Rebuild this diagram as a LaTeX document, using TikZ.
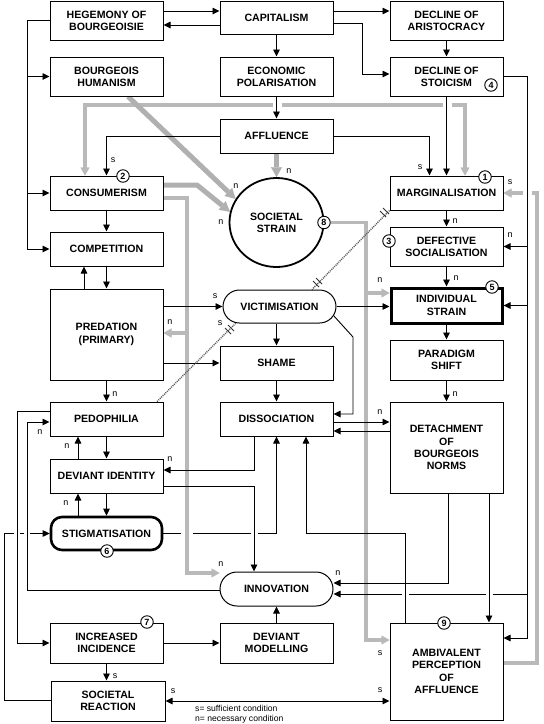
\documentclass[tikz,border=0pt]{standalone}
\usepackage{fontspec}
\setmainfont{Liberation Sans}
\usetikzlibrary{arrows.meta,shapes.geometric,calc}
\pgfdeclarelayer{back}
\pgfdeclarelayer{bg}
\pgfsetlayers{back,bg,main}
\newcommand{\mkbox}[7][]{%
  \pgfmathsetmacro\mbX{(#3+#5)/2}\pgfmathsetmacro\mbY{(#4+#6)/2}%
  \pgfmathsetmacro\mbW{#5-#3}\pgfmathsetmacro\mbH{#6-#4}%
  \node[box,#1,minimum width=\mbW pt,minimum height=\mbH pt] (#2) at (\mbX,\mbY) {#7};}
\newcommand{\gapat}[4]{\fill[white] (#1-#3,#2-#4) rectangle (#1+#3,#2+#4);}
\tikzset{
  box/.style={draw, line width=1pt, fill=white, align=center, inner sep=0pt,
    font=\bfseries\fontsize{10.6}{12.3}\selectfont},
  cn/.style={line width=0.9pt, -{Triangle[length=7pt,width=6.5pt]}},
  cnb/.style={line width=0.9pt, {Triangle[length=7pt,width=6.5pt]}-{Triangle[length=7pt,width=6.5pt]}},
  dband/.style={line width=3.5pt, draw=gray!55, -{Triangle[length=8pt,width=9pt,line width=0.3pt]}},
  dbandb/.style={line width=3.5pt, draw=gray!55, {Triangle[length=8pt,width=9pt,line width=0.3pt]}-{Triangle[length=8pt,width=9pt,line width=0.3pt]}},
  hband/.style={line width=5pt, draw=gray!62, -{Triangle[length=10pt,width=11pt,line width=0.3pt]}},
  fdot/.style={line width=1.4pt, draw=black!65, dash pattern=on 1pt off 1pt},
  tickm/.style={line width=0.8pt, draw=black!80},
  cnum/.style={circle, draw, line width=0.9pt, fill=white, minimum size=12.5pt, inner sep=0pt,
    font=\bfseries\fontsize{9}{9}\selectfont},
  lbl/.style={inner sep=0pt, font=\fontsize{9}{9}\selectfont},
  leg/.style={inner sep=0pt, anchor=west, font=\fontsize{8.6}{9}\selectfont},
}
\begin{document}
\begin{tikzpicture}[x=1pt,y=-1pt]
\useasboundingbox (0,0) rectangle (544,724);
\begin{pgfonlayer}{back}
\fill[white] (0,0) rectangle (544,724);
\end{pgfonlayer}
% ---------------- nodes ----------------
\mkbox{heg}{50}{1}{163}{40}{HEGEMONY OF\\BOURGEOISIE}
\mkbox{cap}{220}{1}{333}{34}{CAPITALISM}
\mkbox{dar}{390}{1}{503}{40}{DECLINE OF\\ARISTOCRACY}
\mkbox{bhu}{50}{57}{163}{96}{BOURGEOIS\\HUMANISM}
\mkbox{eco}{220}{57}{333}{96}{ECONOMIC\\POLARISATION}
\mkbox{dst}{390}{57}{503}{96}{DECLINE OF\\STOICISM}
\mkbox{aff}{220}{119}{333}{153}{AFFLUENCE}
\mkbox{con}{50}{176}{163}{210}{CONSUMERISM}
\mkbox{mar}{390}{176}{503}{210}{MARGINALISATION}
\mkbox{def}{390}{227}{503}{266}{DEFECTIVE\\SOCIALISATION}
\mkbox{com}{50}{232}{163}{266}{COMPETITION}
\mkbox[line width=3pt]{ind}{391}{288}{502}{323}{INDIVIDUAL\\STRAIN}
\mkbox{pre}{50}{289}{163}{380}{PREDATION\\(PRIMARY)}
\mkbox[rounded corners=16.5pt]{vic}{223}{290}{336}{323}{VICTIMISATION}
\mkbox{par}{390}{340}{503}{380}{PARADIGM\\SHIFT}
\mkbox{sha}{220}{346}{333}{380}{SHAME}
\mkbox{ped}{50}{402}{163}{436}{PEDOPHILIA}
\mkbox{dis}{220}{402}{333}{436}{DISSOCIATION}
\mkbox{det}{390}{402}{503}{493}{DETACHMENT\\OF\\BOURGEOIS\\NORMS}
\mkbox{dev}{50}{459}{163}{493}{DEVIANT IDENTITY}
\mkbox[line width=2.6pt,rounded corners=11pt]{sti}{51}{517}{162}{550}{STIGMATISATION}
\mkbox[rounded corners=17pt]{inn}{220}{572}{333}{606}{INNOVATION}
\mkbox{inc}{50}{623}{163}{663}{INCREASED\\INCIDENCE}
\mkbox{dmo}{220}{623}{333}{663}{DEVIANT\\MODELLING}
\mkbox{amb}{390}{623}{503}{720}{AMBIVALENT\\PERCEPTION\\OF\\AFFLUENCE}
\mkbox{sre}{51}{681}{165}{721}{SOCIETAL\\REACTION}
\node[ellipse, draw, line width=1.8pt, fill=white, minimum width=94pt, minimum height=89pt,
  inner sep=0pt, align=center, font=\bfseries\fontsize{10.6}{12.3}\selectfont] (sst) at (276.5,222.5) {SOCIETAL\\STRAIN};
% circled numbers
\node[cnum] (c1) at (485,177) {1};
\node[cnum] (c2) at (123,176) {2};
\node[cnum] (c3) at (389,241) {3};
\node[cnum] (c4) at (491,85) {4};
\node[cnum] (c5) at (492,287) {5};
\node[cnum] (c6) at (107,551) {6};
\node[cnum] (c7) at (147,622) {7};
\node[cnum] (c8) at (324,222.5) {8};
\node[cnum] (c9) at (444,623) {9};
% labels
\node[lbl] (l1) at (113,160) {s};
\node[lbl] (l2) at (420,167) {s};
\node[lbl] (l3) at (236,186) {n};
\node[lbl] (l4) at (221,222) {n};
\node[lbl] (l5) at (289,171) {n};
\node[lbl] (l6) at (455,221) {n};
\node[lbl] (l7) at (510,235) {n};
\node[lbl] (l8) at (510,182) {s};
\node[lbl] (l9) at (456,278) {n};
\node[lbl] (l10) at (380,280) {n};
\node[lbl] (l11) at (215,296) {s};
\node[lbl] (l12) at (170,322) {n};
\node[lbl] (l13) at (220,323) {s};
\node[lbl] (l14) at (115,394) {n};
\node[lbl] (l15) at (455,394) {n};
\node[lbl] (l16) at (380,412) {n};
\node[lbl] (l17) at (40,432) {n};
\node[lbl] (l18) at (67,446) {n};
\node[lbl] (l19) at (170,459) {n};
\node[lbl] (l20) at (66,503) {n};
\node[lbl] (l21) at (221,564) {n};
\node[lbl] (l22) at (338,573) {n};
\node[lbl] (l23) at (380,653) {s};
\node[lbl] (l24) at (115,676) {s};
\node[lbl] (l25) at (173,691) {s};
\node[lbl] (l26) at (380,690) {s};
\node[leg] (lg1) at (195,708) {s= sufficient condition};
\node[leg] (lg2) at (195,719) {n= necessary condition};
% ---------------- connectors ----------------
\begin{pgfonlayer}{bg}
% dotted bands
\draw[dbandb] (con.north -| 85,0) -- (85,105) -- (465,105) -- (mar.north -| 465,0);
\draw[dband] (c8.east) -- (366,222.5) -- (366,640) -- (amb.west |- 0,640);
\draw[dband] (366,293) -- (ind.west |- 0,293);
\draw[dband] (amb.east |- 0,663) -- (537,663) -- (537,193) -- (mar.east |- 0,193);
% hatched bands
\draw[hband] (bhu.south -| 128,0) -- (sst.150);
\draw[hband] (con.east |- 0,185) -- (197,185) -- (sst.167);
\draw[hband] (aff.south) -- (sst.north);
% lines that are crossed
\draw[cn] (sre.west |- 0,700) -- (4,700) -- (4,533.5) -- (sti.west);
\draw[cn] (sti.east) -| (dis.south);
\draw[cn] (527,594) -- (inn.east |- 0,594);
% gaps at crossings
\gapat{17}{533.5}{3}{2}
\gapat{27}{533.5}{3}{2}
\gapat{254}{533.5}{3.5}{2}
\gapat{187}{533.5}{6}{2}
\gapat{405}{594}{3.5}{2}
\gapat{489}{594}{3.5}{2}
\gapat{277}{105}{4.5}{3}
\gapat{447}{105}{4.5}{3}
\gapat{527}{193}{4.5}{3}
% dotted band from consumerism
\draw[dband] (con.east |- 0,198) -- (187,198) -- (187,573) -- (inn.west |- 0,573);
\draw[dband] (187,333) -- (pre.east |- 0,333);
% solid connectors
\draw[cn] (heg.east |- 0,11) -- (cap.west |- 0,11);
\draw[cn] (cap.west |- 0,25) -- (heg.east |- 0,25);
\draw[cn] (cap.east |- 0,11) -- (dar.west |- 0,11);
\draw[cn] (cap.east |- 0,23) -- (362,23) -- (362,74) -- (dst.west |- 0,74);
\draw[cn] (cap.south) -- (eco.north);
\draw[cn] (eco.south) -- (aff.north);
\draw[cn] (dar.south) -- (dst.north);
\draw[cn] (dst.south) -- (mar.north);
\draw[cn] (aff.east) -| ($(mar.north west)+(40,0)$);
\draw[cn] (aff.west) -| (con.north);
\draw[cn] (heg.west) -- (27,20.5) -- (27,249) -- (com.west);
\draw[cn] (27,76.5) -- (bhu.west);
\draw[cn] (27,193) -- (con.west);
\draw[cn] (con.south) -- (com.north);
\draw[cn] (com.south) -- (pre.north);
\draw[cn] (pre.north -| 84,0) -- (com.south -| 84,0);
\draw[cn] (pre.east |- vic.west) -- (vic.west);
\draw[cn] (pre.east |- sha.west) -- (sha.west);
\draw[cn] (pre.south) -- (ped.north);
\draw[cn] (ped.south) -- (dev.north);
\draw[cn] (dev.north -| 78,0) -- (ped.south -| 78,0);
\draw[cn] (dev.south) -- (sti.north);
\draw[cn] (sti.north -| 78,0) -- (dev.south -| 78,0);
\draw[cn] (vic.south -| sha.north) -- (sha.north);
\draw[cn] (sha.south) -- (dis.north);
\draw[cn] ($(vic.east)+(-3,9)$) -- (353,337) -- (353,414) -- (dis.east |- 0,414);
\draw[cn] (vic.east) -- (ind.west |- vic.east);
\draw[cn] (dis.east |- 0,422) -- (det.west |- 0,422);
\draw[cn] (det.west |- 0,431) -- (dis.east |- 0,431);
\draw[cn] (dis.south -| 254,0) -- (254,470) -- (dev.east |- 0,470);
\draw[cn] (dev.east |- 0,486) -- (254,486) -- (inn.north -| 254,0);
\draw[cn] (inn.west |- 0,590) -- (27,590) -- (27,422) -- (ped.west |- 0,422);
\draw[cn] (ped.west |- 0,411) -- (17,411) -- (17,643) -- (inc.west);
\draw[cn] (inc.east) -- (dmo.west);
\draw[cn] (dmo.north) -- (inn.south);
\draw[cn] (inc.south) -- (inc.south |- sre.north);
\draw[cnb] (sre.east) -- (amb.west |- sre.east);
\draw[cn] (mar.south) -- (def.north);
\draw[cn] (def.south) -- (ind.north);
\draw[cn] (ind.south) -- (par.north);
\draw[cn] (par.south) -- (det.north);
\draw[cn] (det.south -| 448,0) -- (448,583) -- (inn.east |- 0,583);
\draw[cn] (det.south -| 489,0) -- (amb.north -| 489,0);
\draw[cn] (amb.north -| 405,0) -- (405,533) -- (306,533) -- (dis.south -| 306,0);
\draw[cn] (dst.east |- 0,76) -- (527,76) -- (527,638) -- (amb.east |- 0,638);
\draw[cn] (527,246.5) -- (def.east);
\draw[cn] (527,305.5) -- (ind.east);
% fine dotted links with ticks
\draw[fdot] (mar.south west) -- (vic.north -| 312,0);
\draw[tickm] (313,281) -- (319,287);
\draw[tickm] (316,278) -- (322,284);
\draw[tickm] (380,211) -- (386,217);
\draw[tickm] (383,208) -- (389,214);
\draw[fdot] (ped.north -| 157,0) -- (236,323);
\draw[tickm] (225,328) -- (231,334);
\draw[tickm] (228,325) -- (234,331);
\end{pgfonlayer}
\end{tikzpicture}
\end{document}
